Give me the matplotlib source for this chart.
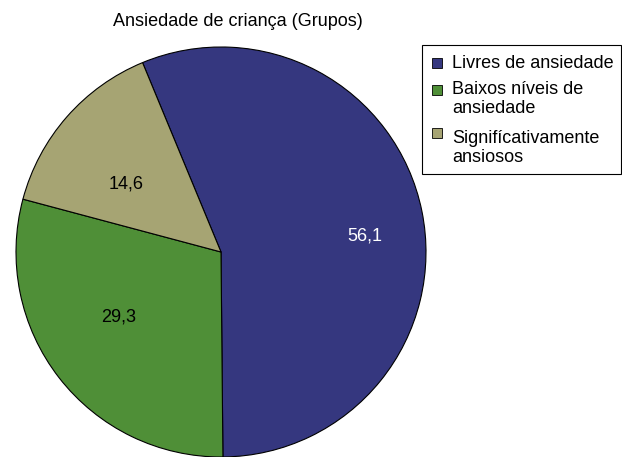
import matplotlib.pyplot as plt
from matplotlib.patches import Rectangle

plt.rcParams['font.family'] = ['Liberation Sans', 'DejaVu Sans']

groups = ["Livres de ansiedade", "Baixos níveis de\nansiedade", "Signifícativamente\nansiosos"]
values = [56.1, 29.3, 14.6]
value_labels = ["56,1", "29,3", "14,6"]
colors = ["#35377f", "#4f8f37", "#a6a473"]

W, H = 622, 457
FS = 13

fig = plt.figure(figsize=(6.22, 4.57), dpi=100)
ax = fig.add_axes([16 / W, 0 / H, 410 / W, 410 / H])
wedges, _ = ax.pie(values, colors=colors, startangle=112.5, counterclock=False,
                   radius=1.0, wedgeprops=dict(edgecolor="black", linewidth=0.8))
ax.set_xlim(-1.0, 1.0)
ax.set_ylim(-1.0, 1.0)
ax.set_aspect("equal")
ax.axis("off")

# label spots (data coords inside the pie)
label_pos = [(0.70, 0.08), (-0.50, -0.315), (-0.465, 0.33)]
label_col = ["white", "black", "black"]
for txt, (x, y), c in zip(value_labels, label_pos, label_col):
    ax.text(x, y, txt, ha="center", va="center", fontsize=FS, color=c)

fig.text(238 / W, 1 - 21 / H, "Ansiedade de criança (Grupos)",
         ha="center", va="center", fontsize=FS)

# legend box, drawn by hand so the swatch sits on the first line
fig.patches.append(Rectangle((422 / W, 1 - 174 / H), 199 / W, 129 / H,
                             transform=fig.transFigure, facecolor="white",
                             edgecolor="black", linewidth=0.8))
patch_top = [58, 85, 128]
text_base = [68, 94, 143]
for name, c, py, ty in zip(groups, colors, patch_top, text_base):
    fig.patches.append(Rectangle((432 / W, 1 - (py + 10) / H), 10 / W, 10 / H,
                                 transform=fig.transFigure, facecolor=c,
                                 edgecolor="black", linewidth=0.6))
    for i, line in enumerate(name.split("\n")):
        fig.text(452 / W, 1 - (ty + 19 * i) / H, line, ha="left", va="baseline",
                 fontsize=FS)

fig.savefig("out.png", dpi=100)
